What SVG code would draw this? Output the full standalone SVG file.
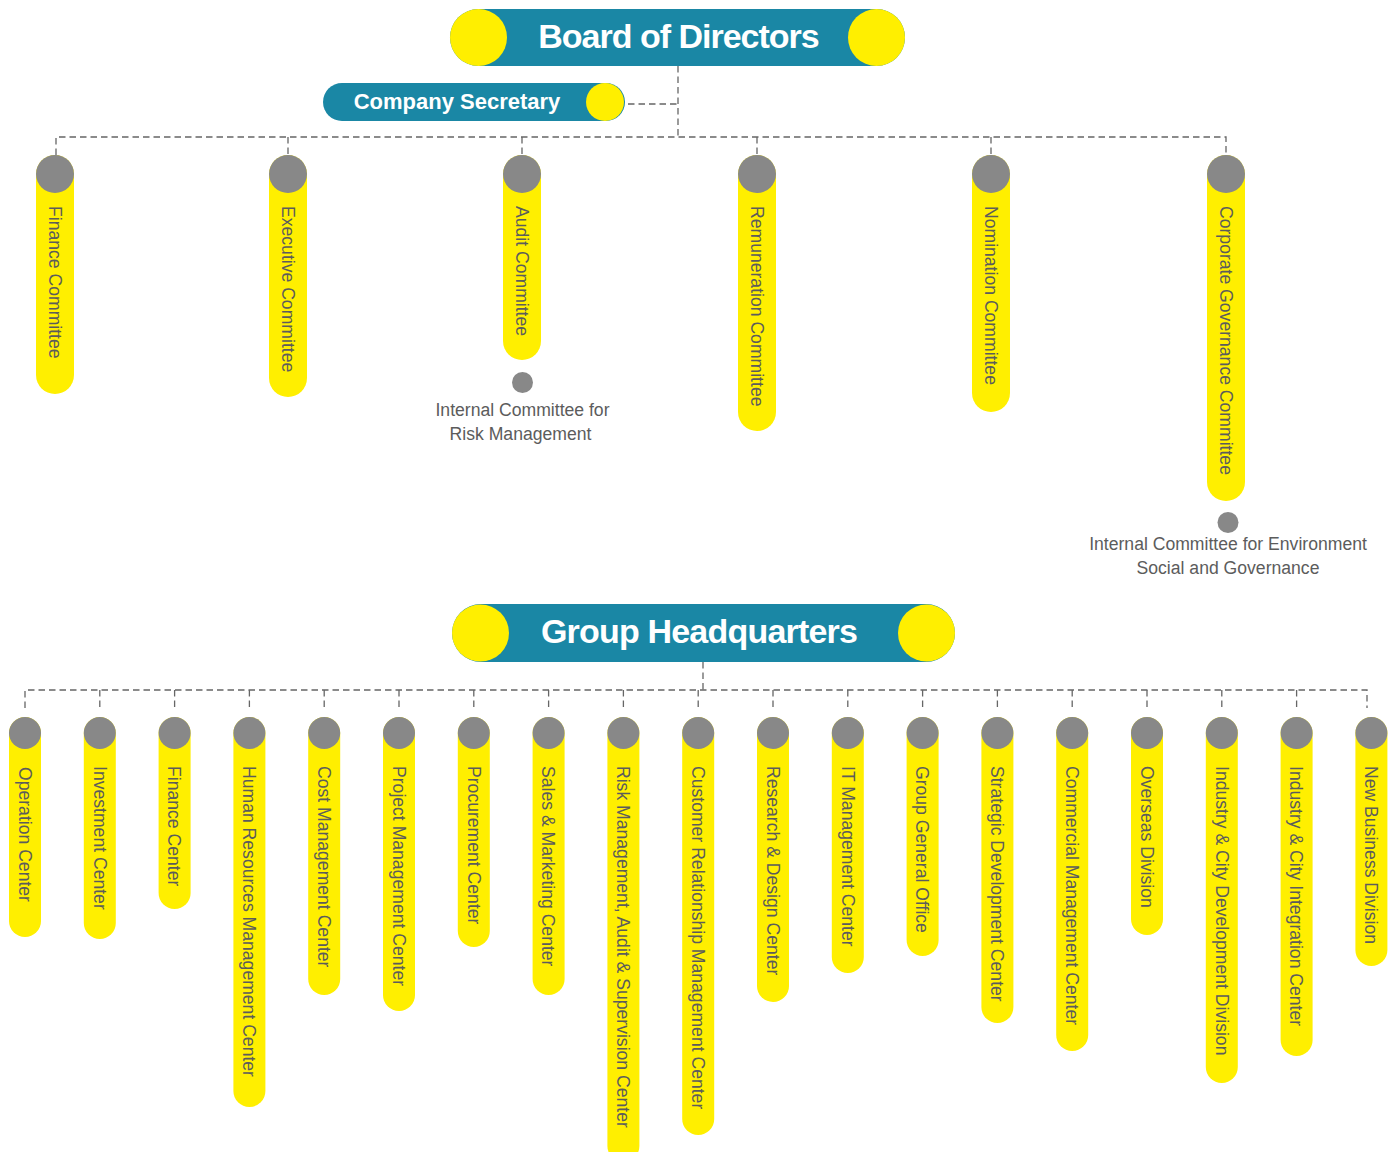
<svg xmlns="http://www.w3.org/2000/svg" width="1392" height="1152" viewBox="0 0 1392 1152">
  <style>
    .head { fill: #1a87a5; }
    .sun { fill: #ffef00; }
    .bar { fill: #ffef00; }
    .cap { fill: #888888; }
    .title { font-family: "Liberation Sans", Arial, sans-serif; font-weight: bold; fill: #ffffff; text-anchor: middle; }
    .lbl { font-family: "Liberation Sans", Arial, sans-serif; font-size: 17.6px; fill: #5c5c5c; }
    .note { font-family: "Liberation Sans", Arial, sans-serif; font-size: 17.6px; fill: #5c5c5c; text-anchor: middle; }
    .link { fill: none; stroke: #666666; stroke-width: 1.3; stroke-dasharray: 6.5 4; }
  </style>

  <rect width="1392" height="1152" fill="#ffffff"/>

  <!-- connectors -->
  <g id="connectors">
    <path class="link" d="M678 66 V137"/>
    <path class="link" d="M628 104 H678"/>
    <path class="link" d="M56 155 V137 H1226 V155"/>
    <path class="link" d="M288 137 V155 M522 137 V155 M757 137 V155 M991 137 V155"/>
    <path class="link" d="M703 662 V690"/>
    <path class="link" d="M25 708 V690 H1367 V708"/>
    <path class="link" d="M99.8 690 V708 M174.6 690 V708 M249.4 690 V708 M324.2 690 V708 M399 690 V708 M473.8 690 V708 M548.6 690 V708 M623.4 690 V708 M698.2 690 V708 M773 690 V708 M847.8 690 V708 M922.6 690 V708 M997.4 690 V708 M1072.2 690 V708 M1147 690 V708 M1221.8 690 V708 M1296.6 690 V708"/>
  </g>

  <!-- board -->
  <g id="board">
    <rect class="head" x="450" y="9" width="455" height="57" rx="28.5"/>
    <circle class="sun" cx="478.5" cy="37.5" r="28.5"/>
    <circle class="sun" cx="876.5" cy="37.5" r="28.5"/>
    <text class="title" x="678.5" y="48" font-size="34" letter-spacing="-1">Board of Directors</text>
  </g>

  <g id="company-secretary">
    <rect class="head" x="323" y="83" width="302" height="38" rx="19"/>
    <circle class="sun" cx="605" cy="102" r="19"/>
    <text class="title" x="457" y="109" font-size="22">Company Secretary</text>
  </g>

  <!-- board committees -->
  <g id="finance-committee">
    <rect class="bar" x="36" y="155" width="38" height="239" rx="19"/>
    <circle class="cap" cx="55" cy="174" r="19"/>
    <text class="lbl" transform="translate(48.7 206) rotate(90)">Finance Committee</text>
  </g>
  <g id="executive-committee">
    <rect class="bar" x="269" y="155" width="38" height="242" rx="19"/>
    <circle class="cap" cx="288" cy="174" r="19"/>
    <text class="lbl" transform="translate(281.7 206) rotate(90)">Executive Committee</text>
  </g>
  <g id="audit-committee">
    <rect class="bar" x="503" y="155" width="38" height="205" rx="19"/>
    <circle class="cap" cx="522" cy="174" r="19"/>
    <text class="lbl" transform="translate(515.7 206) rotate(90)">Audit Committee</text>
  </g>
  <g id="risk-internal-committee">
    <circle class="cap" cx="522.5" cy="382.5" r="10.5"/>
    <text class="note" x="522.5" y="416">Internal Committee for</text>
    <text class="note" x="520.5" y="440">Risk Management</text>
  </g>
  <g id="remuneration-committee">
    <rect class="bar" x="738" y="155" width="38" height="276" rx="19"/>
    <circle class="cap" cx="757" cy="174" r="19"/>
    <text class="lbl" transform="translate(750.7 206) rotate(90)">Remuneration Committee</text>
  </g>
  <g id="nomination-committee">
    <rect class="bar" x="972" y="155" width="38" height="257" rx="19"/>
    <circle class="cap" cx="991" cy="174" r="19"/>
    <text class="lbl" transform="translate(984.7 206) rotate(90)">Nomination Committee</text>
  </g>
  <g id="corporate-governance-committee">
    <rect class="bar" x="1207" y="155" width="38" height="346" rx="19"/>
    <circle class="cap" cx="1226" cy="174" r="19"/>
    <text class="lbl" transform="translate(1219.7 206) rotate(90)">Corporate Governance Committee</text>
  </g>
  <g id="esg-internal-committee">
    <circle class="cap" cx="1228" cy="522.5" r="10.5"/>
    <text class="note" x="1228" y="550">Internal Committee for Environment</text>
    <text class="note" x="1228" y="574">Social and Governance</text>
  </g>

  <!-- headquarters -->
  <g id="group-headquarters">
    <rect class="head" x="452" y="604" width="503" height="58" rx="29"/>
    <circle class="sun" cx="480.5" cy="633" r="28.5"/>
    <circle class="sun" cx="926.5" cy="633" r="28.5"/>
    <text class="title" x="699" y="643" font-size="34" letter-spacing="-0.8">Group Headquarters</text>
  </g>

  <!-- headquarters units -->
  <g id="operation-center">
    <rect class="bar" x="9" y="717" width="32" height="220" rx="16"/>
    <circle class="cap" cx="25" cy="733" r="16"/>
    <text class="lbl" transform="translate(18.7 767) rotate(90)">Operation Center</text>
  </g>
  <g id="investment-center">
    <rect class="bar" x="83.8" y="717" width="32" height="222" rx="16"/>
    <circle class="cap" cx="99.8" cy="733" r="16"/>
    <text class="lbl" transform="translate(93.5 766) rotate(90)">Investment Center</text>
  </g>
  <g id="finance-center">
    <rect class="bar" x="158.6" y="717" width="32" height="192" rx="16"/>
    <circle class="cap" cx="174.6" cy="733" r="16"/>
    <text class="lbl" transform="translate(168.3 766) rotate(90)">Finance Center</text>
  </g>
  <g id="human-resources-management-center">
    <rect class="bar" x="233.4" y="717" width="32" height="390" rx="16"/>
    <circle class="cap" cx="249.4" cy="733" r="16"/>
    <text class="lbl" transform="translate(243.1 766) rotate(90)">Human Resources Management Center</text>
  </g>
  <g id="cost-management-center">
    <rect class="bar" x="308.2" y="717" width="32" height="278" rx="16"/>
    <circle class="cap" cx="324.2" cy="733" r="16"/>
    <text class="lbl" transform="translate(317.9 766) rotate(90)">Cost Management Center</text>
  </g>
  <g id="project-management-center">
    <rect class="bar" x="383" y="717" width="32" height="294" rx="16"/>
    <circle class="cap" cx="399" cy="733" r="16"/>
    <text class="lbl" transform="translate(392.7 766) rotate(90)">Project Management Center</text>
  </g>
  <g id="procurement-center">
    <rect class="bar" x="457.8" y="717" width="32" height="230" rx="16"/>
    <circle class="cap" cx="473.8" cy="733" r="16"/>
    <text class="lbl" transform="translate(467.5 766) rotate(90)">Procurement Center</text>
  </g>
  <g id="sales-marketing-center">
    <rect class="bar" x="532.6" y="717" width="32" height="278" rx="16"/>
    <circle class="cap" cx="548.6" cy="733" r="16"/>
    <text class="lbl" transform="translate(542.3 766) rotate(90)">Sales &amp; Marketing Center</text>
  </g>
  <g id="risk-audit-supervision-center">
    <rect class="bar" x="607.4" y="717" width="32" height="445" rx="16"/>
    <circle class="cap" cx="623.4" cy="733" r="16"/>
    <text class="lbl" transform="translate(617.1 766) rotate(90)">Risk Management, Audit &amp; Supervision Center</text>
  </g>
  <g id="customer-relationship-management-center">
    <rect class="bar" x="682.2" y="717" width="32" height="418" rx="16"/>
    <circle class="cap" cx="698.2" cy="733" r="16"/>
    <text class="lbl" transform="translate(691.9 766) rotate(90)">Customer Relationship Management Center</text>
  </g>
  <g id="research-design-center">
    <rect class="bar" x="757" y="717" width="32" height="285" rx="16"/>
    <circle class="cap" cx="773" cy="733" r="16"/>
    <text class="lbl" transform="translate(766.7 766) rotate(90)">Research &amp; Design Center</text>
  </g>
  <g id="it-management-center">
    <rect class="bar" x="831.8" y="717" width="32" height="256" rx="16"/>
    <circle class="cap" cx="847.8" cy="733" r="16"/>
    <text class="lbl" transform="translate(841.5 766) rotate(90)">IT Management Center</text>
  </g>
  <g id="group-general-office">
    <rect class="bar" x="906.6" y="717" width="32" height="239" rx="16"/>
    <circle class="cap" cx="922.6" cy="733" r="16"/>
    <text class="lbl" transform="translate(916.3 766) rotate(90)">Group General Office</text>
  </g>
  <g id="strategic-development-center">
    <rect class="bar" x="981.4" y="717" width="32" height="306" rx="16"/>
    <circle class="cap" cx="997.4" cy="733" r="16"/>
    <text class="lbl" transform="translate(991.1 766) rotate(90)">Strategic Development Center</text>
  </g>
  <g id="commercial-management-center">
    <rect class="bar" x="1056.2" y="717" width="32" height="334" rx="16"/>
    <circle class="cap" cx="1072.2" cy="733" r="16"/>
    <text class="lbl" transform="translate(1065.9 766) rotate(90)">Commercial Management Center</text>
  </g>
  <g id="overseas-division">
    <rect class="bar" x="1131" y="717" width="32" height="218" rx="16"/>
    <circle class="cap" cx="1147" cy="733" r="16"/>
    <text class="lbl" transform="translate(1140.7 766) rotate(90)">Overseas Division</text>
  </g>
  <g id="industry-city-development-division">
    <rect class="bar" x="1205.8" y="717" width="32" height="366" rx="16"/>
    <circle class="cap" cx="1221.8" cy="733" r="16"/>
    <text class="lbl" transform="translate(1215.5 766) rotate(90)">Industry &amp; City Development Division</text>
  </g>
  <g id="industry-city-integration-center">
    <rect class="bar" x="1280.6" y="717" width="32" height="339" rx="16"/>
    <circle class="cap" cx="1296.6" cy="733" r="16"/>
    <text class="lbl" transform="translate(1290.3 766) rotate(90)">Industry &amp; City Integration Center</text>
  </g>
  <g id="new-business-division">
    <rect class="bar" x="1355.4" y="717" width="32" height="249" rx="16"/>
    <circle class="cap" cx="1371.4" cy="733" r="16"/>
    <text class="lbl" transform="translate(1365.1 766) rotate(90)">New Business Division</text>
  </g>
</svg>
